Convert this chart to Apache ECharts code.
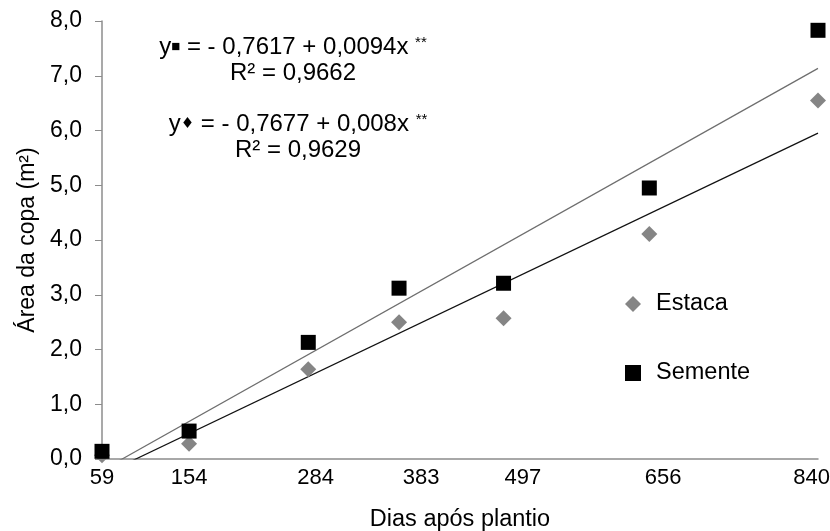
<!DOCTYPE html>
<html>
<head>
<meta charset="utf-8">
<script src="https://cdn.jsdelivr.net/npm/echarts@6/dist/echarts.min.js"></script>
<style>
  html, body { margin: 0; padding: 0; background: #fff; }
  #chart { width: 830px; height: 531px; }
</style>
</head>
<body>
<div id="chart"></div>
<script>
  // dias apos plantio
  var dias = [59, 154, 284, 383, 497, 656, 840]
  var tickLabels = ['59', '154', '284', '383', '497', '656', '840']
  // area da copa (m2)
  var estaca = [0.07, 0.28, 1.64, 2.50, 2.57, 4.11, 6.55]
  var semente = [0.14, 0.51, 2.13, 3.12, 3.21, 4.95, 7.83]
  // regression coefficients (intercept, slope)
  var regSemente = [-0.7617, 0.0094]
  var regEstaca = [-0.7677, 0.008]

  // where the day labels sit along the axis in the original (slightly off the points)
  var labelAt = [59, 154, 292, 407, 518, 671, 833]

  var font = 'Liberation Sans, Arial, sans-serif'

  function pts (ys) {
    var out = []
    for (var i = 0; i < dias.length; i++) {
      out.push([dias[i], ys[i]])
    }
    return out
  }
  function regLine (c) {
    var x0 = dias[0]
    var x1 = dias[dias.length - 1]
    return [[x0, c[0] + c[1] * x0], [x1, c[0] + c[1] * x1]]
  }

  var chart = echarts.init(document.getElementById('chart'))
  var option = {
    backgroundColor: '#fff',
    animation: false,
    textStyle: { fontFamily: font },
    grid: { left: 102, right: 12, top: 21, bottom: 72, outerBoundsMode: 'none', containLabel: false },
    legend: {
      orient: 'vertical',
      left: 620,
      top: 287,
      itemWidth: 16,
      itemHeight: 16,
      itemGap: 45,
      data: ['Estaca', 'Semente'],
      textStyle: { fontFamily: font, fontSize: 23.5, color: '#000', padding: [0, 0, 0, 10] }
    },
    xAxis: {
      type: 'value',
      min: 59,
      max: 840,
      name: 'Dias após plantio',
      nameLocation: 'middle',
      nameGap: 49,
      nameTextStyle: { fontFamily: font, fontSize: 23.5, color: '#000' },
      axisLine: { show: true, lineStyle: { color: '#8c8c8c', width: 1.5 } },
      axisTick: { show: false },
      splitLine: { show: false },
      axisLabel: {
        customValues: labelAt,
        margin: 8,
        fontFamily: font,
        fontSize: 22,
        color: '#000',
        formatter: function (v) {
          var i = labelAt.indexOf(v)
          return i >= 0 ? tickLabels[i] : ''
        }
      }
    },
    yAxis: {
      type: 'value',
      min: 0,
      max: 8,
      interval: 1,
      name: 'Área da copa (m²)',
      nameLocation: 'middle',
      nameGap: 60,
      nameRotate: 90,
      nameTextStyle: { fontFamily: font, fontSize: 23, color: '#000' },
      axisLine: { show: true, lineStyle: { color: '#8c8c8c', width: 1.5 } },
      axisTick: { show: true, inside: false, length: 7, lineStyle: { color: '#8c8c8c' } },
      splitLine: { show: false },
      axisLabel: {
        margin: 20,
        fontFamily: font,
        fontSize: 23,
        color: '#000',
        formatter: function (v) { return v.toFixed(1).replace('.', ',') }
      }
    },
    series: [
      {
        name: 'reg Semente',
        type: 'line',
        data: regLine(regSemente),
        symbol: 'none',
        clip: true,
        lineStyle: { color: '#6e6e6e', width: 1.2 },
        z: 1
      },
      {
        name: 'reg Estaca',
        type: 'line',
        data: regLine(regEstaca),
        symbol: 'none',
        clip: true,
        lineStyle: { color: '#111', width: 1.2 },
        z: 1
      },
      {
        name: 'Estaca',
        type: 'scatter',
        data: pts(estaca),
        symbol: 'diamond',
        symbolSize: 16,
        itemStyle: { color: '#858585', opacity: 1 },
        z: 2
      },
      {
        name: 'Semente',
        type: 'scatter',
        data: pts(semente),
        symbol: 'rect',
        symbolSize: 15,
        itemStyle: { color: '#000', opacity: 1 },
        z: 3
      }
    ],
    graphic: [
      {
        type: 'text', x: 293, y: 47, z: 10,
        style: {
          text: 'y{s|■} = - 0,7617 + 0,0094x {st|**}',
          fontFamily: font, fontSize: 24, fill: '#000',
          align: 'center', verticalAlign: 'middle',
          rich: {
            s: { fontFamily: font, fontSize: 15, fill: '#000' },
            st: { fontFamily: font, fontSize: 15, fill: '#000', verticalAlign: 'top' }
          }
        }
      },
      {
        type: 'text', x: 293, y: 73, z: 10,
        style: {
          text: 'R² = 0,9662',
          fontFamily: font, fontSize: 24, fill: '#000',
          align: 'center', verticalAlign: 'middle'
        }
      },
      {
        type: 'text', x: 298, y: 124, z: 10,
        style: {
          text: 'y{s|♦} = - 0,7677 + 0,008x {st|**}',
          fontFamily: font, fontSize: 24, fill: '#000',
          align: 'center', verticalAlign: 'middle',
          rich: {
            s: { fontFamily: 'DejaVu Sans', fontSize: 15, fill: '#000' },
            st: { fontFamily: font, fontSize: 15, fill: '#000', verticalAlign: 'top' }
          }
        }
      },
      {
        type: 'text', x: 298, y: 150, z: 10,
        style: {
          text: 'R² = 0,9629',
          fontFamily: font, fontSize: 24, fill: '#000',
          align: 'center', verticalAlign: 'middle'
        }
      }
    ]
  }
  chart.setOption(option)
</script>
</body>
</html>
